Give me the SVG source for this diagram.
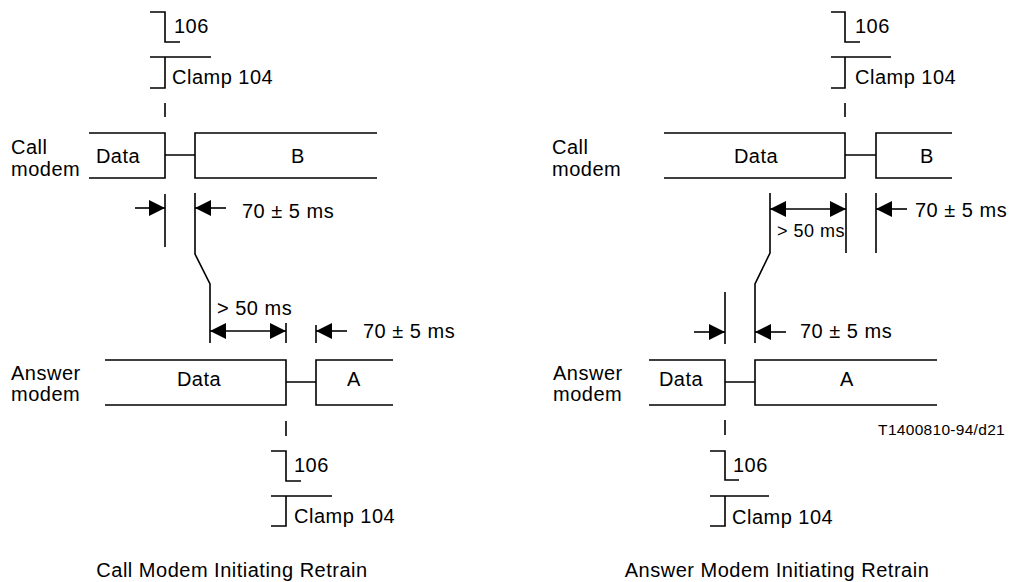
<svg xmlns="http://www.w3.org/2000/svg" width="1010" height="582" viewBox="0 0 1010 582">
<defs>
<marker id="ah" markerUnits="userSpaceOnUse" markerWidth="16" markerHeight="16" refX="16" refY="8" orient="auto" viewBox="0 0 16 16">
<path d="M0,0 L16,8 L0,16 z" fill="#000"/>
</marker>
<marker id="ahs" markerUnits="userSpaceOnUse" markerWidth="16" markerHeight="16" refX="0" refY="8" orient="auto" viewBox="0 0 16 16">
<path d="M16,0 L0,8 L16,16 z" fill="#000"/>
</marker>
</defs>
<style>
.ln{fill:none;stroke:#000;stroke-width:1.6}
.dim{fill:none;stroke:#000;stroke-width:1.6;marker-end:url(#ah)}
.dbl{fill:none;stroke:#000;stroke-width:1.6;marker-end:url(#ah);marker-start:url(#ahs)}
text{font-family:"Liberation Sans",Arial,sans-serif;font-size:20px;letter-spacing:0.5px;fill:#000}
.c{text-anchor:middle}
.sm{font-size:18px}
.ref{font-size:15.5px;text-anchor:end;letter-spacing:0.3px}
</style>
<rect width="1010" height="582" fill="#fff"/>

<!-- LEFT: Call Modem Initiating Retrain -->
<g id="L-top-106">
<path class="ln" d="M150,12 H165 V42 H180"/>
<text x="174" y="33">106</text>
</g>
<g id="L-top-clamp">
<path class="ln" d="M150,57 H211 M165,57 V88 H150"/>
<text x="172" y="84">Clamp 104</text>
<path class="ln" d="M165,103 V117" stroke-width="2"/>
</g>
<g id="L-call-modem">
<text x="11" y="154">Call</text>
<text x="11" y="176">modem</text>
<path class="ln" d="M89,133 H165 V178 H89 M165,155 H195 M377,133 H195 V178 H377"/>
<text class="c" x="118" y="163">Data</text>
<text class="c" x="298" y="163">B</text>
</g>
<g id="L-answer-modem">
<text x="11" y="380">Answer</text>
<text x="11" y="401">modem</text>
<path class="ln" d="M105,360 H286 V405 H105 M286,382 H316 M393,360 H316 V405 H393"/>
<text class="c" x="199" y="386">Data</text>
<text class="c" x="354" y="386">A</text>
</g>
<g id="L-bot-106">
<path class="ln" d="M286,421 V436" stroke-width="2"/>
<path class="ln" d="M271,451 H286 V481 H301"/>
<text x="294" y="472">106</text>
</g>
<g id="L-bot-clamp">
<path class="ln" d="M271,496 H332 M286,496 V526 H271"/>
<text x="294" y="523">Clamp 104</text>
</g>
<g id="L-caption">
<text class="c" x="232" y="577">Call Modem Initiating Retrain</text>
</g>

<!-- RIGHT: Answer Modem Initiating Retrain -->
<g id="R-top-106">
<path class="ln" d="M831,12 H845 V42 H860"/>
<text x="855" y="33">106</text>
</g>
<g id="R-top-clamp">
<path class="ln" d="M831,57 H891 M845,57 V88 H831"/>
<text x="855" y="84">Clamp 104</text>
<path class="ln" d="M845,103 V117" stroke-width="2"/>
</g>
<g id="R-call-modem">
<text x="552" y="154">Call</text>
<text x="552" y="176">modem</text>
<path class="ln" d="M664,133 H845 V178 H664 M845,155 H876 M952,133 H876 V178 H952"/>
<text class="c" x="756" y="163">Data</text>
<text class="c" x="927" y="163">B</text>
</g>
<g id="R-answer-modem">
<text x="553" y="380">Answer</text>
<text x="553" y="401">modem</text>
<path class="ln" d="M649,360 H725 V405 H649 M725,382 H755 M937,360 H755 V405 H937"/>
<text class="c" x="681" y="386">Data</text>
<text class="c" x="847" y="386">A</text>
</g>
<g id="R-ref">
<text class="ref" x="1005" y="435">T1400810-94/d21</text>
</g>
<g id="R-bot-106">
<path class="ln" d="M725,420 V435" stroke-width="2"/>
<path class="ln" d="M710,451 H725 V480 H739"/>
<text x="733" y="472">106</text>
</g>
<g id="R-bot-clamp">
<path class="ln" d="M710,496 H769 M725,496 V526 H710"/>
<text x="732" y="524">Clamp 104</text>
</g>
<g id="R-caption">
<text class="c" x="777" y="577">Answer Modem Initiating Retrain</text>
</g>

<!-- connectors / timing dimensions -->
<g id="connectors">
<!-- left -->
<path class="ln" d="M165,194 V247"/>
<path class="ln" d="M195,193 V254 L210,284 V343"/>
<path class="dim" d="M135,208 H165"/>
<path class="dim" d="M226,208 H195"/>
<text x="242" y="218">70 ± 5 ms</text>
<text x="217" y="315">&gt; 50 ms</text>
<path class="dbl" d="M210,331 H286"/>
<path class="ln" d="M286,323 V343"/>
<path class="ln" d="M316,325 V343"/>
<path class="dim" d="M347,331 H316"/>
<text x="363" y="338">70 ± 5 ms</text>
<!-- right -->
<path class="ln" d="M770,193 V253 L755,284 V343"/>
<path class="ln" d="M846,193 V253"/>
<path class="ln" d="M876,193 V253"/>
<path class="dbl" d="M770,209 H846"/>
<path class="dim" d="M907,209 H876"/>
<text x="915" y="217">70 ± 5 ms</text>
<text class="sm" x="777" y="237">&gt; 50 ms</text>
<path class="ln" d="M725,292 V344"/>
<path class="dim" d="M694,332 H725"/>
<path class="dim" d="M786,332 H755"/>
<text x="800" y="338">70 ± 5 ms</text>
</g>
</svg>
